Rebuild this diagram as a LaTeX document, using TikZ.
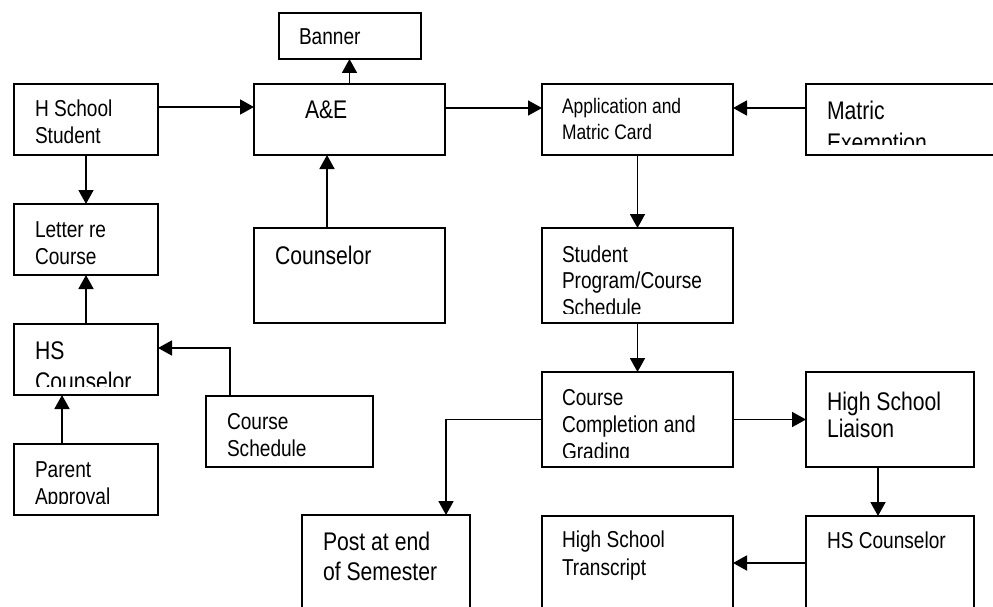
\documentclass[tikz,border=0pt]{standalone}
\usepackage{fontspec}
\setmainfont{Liberation Sans}[FakeStretch=0.83]
\usetikzlibrary{arrows.meta,calc}

% stacked lines with a fixed baseline distance; the baseline is that of the first line
\newcommand\stacklines[2]{\vtop{\baselineskip=#1\relax\lineskiplimit=-100pt\relax #2}}

\begin{document}
\begin{tikzpicture}[x=1pt,y=-1pt,
  box/.style={draw, line width=2.3pt, inner sep=0pt, outer sep=0pt, anchor=north west},
  txt/.style={inner sep=0pt, outer sep=0pt, anchor=base west},
  fsmall/.style={font=\fontsize{21}{25}\selectfont},
  fmed/.style={font=\fontsize{23}{27}\selectfont},
  flarge/.style={font=\fontsize{25.5}{30}\selectfont},
  arr/.style={line width=1.8pt, -{Triangle[length=14pt,width=15pt]}}]

\useasboundingbox (0,0) rectangle (993,607);
\clip (0,0) rectangle (993,607);

% ---- boxes ----
\node[box, minimum width=142pt, minimum height=46pt]  (banner)    at (279,13)  {};
\node[box, minimum width=144pt, minimum height=71pt]  (hss)       at (14,84)   {};
\node[box, minimum width=191pt, minimum height=71pt]  (ae)        at (254,84)  {};
\node[box, minimum width=191pt, minimum height=71pt]  (app)       at (542,84)  {};
\node[box, minimum width=200pt, minimum height=71pt]  (matric)    at (806,84)  {};
\node[box, minimum width=144pt, minimum height=71pt]  (letter)    at (14,204)  {};
\node[box, minimum width=191pt, minimum height=95pt]  (counselor) at (254,228) {};
\node[box, minimum width=191pt, minimum height=95pt]  (sprog)     at (542,228) {};
\node[box, minimum width=144pt, minimum height=71pt]  (hsc)       at (14,324)  {};
\node[box, minimum width=167pt, minimum height=71pt]  (cs)        at (206,396) {};
\node[box, minimum width=144pt, minimum height=71pt]  (parent)    at (14,444)  {};
\node[box, minimum width=191pt, minimum height=95pt]  (cc)        at (542,372) {};
\node[box, minimum width=168pt, minimum height=95pt]  (hsl)       at (806,372) {};
\node[box, minimum width=168pt, minimum height=110pt] (post)      at (302,515) {};
\node[box, minimum width=191pt, minimum height=110pt] (hst)       at (542,516) {};
\node[box, minimum width=168pt, minimum height=110pt] (hsc2)      at (806,516) {};

% ---- texts ----
\node[txt, fmed]   (banner-t)    at (299,45)  {Banner};
\node[txt, fmed]   (hss-t)       at (35,117)  {\stacklines{27pt}{\hbox{H School}\hbox{Student}}};
\node[txt, flarge] (ae-t)        at (305,119) {A\&E};
\node[txt, fsmall] (app-t)       at (562,114) {\stacklines{25pt}{\hbox{Application and}\hbox{Matric Card}}};
\begin{scope}
  \clip (806,84) rectangle (993,145);
  \node[txt, flarge] (matric-t)  at (827,119.5) {\stacklines{32pt}{\hbox{Matric}\hbox{Exemption}}};
\end{scope}
\node[txt, fmed]   (letter-t)    at (35,237)  {\stacklines{27pt}{\hbox{Letter re}\hbox{Course}}};
\node[txt, flarge] (counselor-t) at (275,264) {Counselor};
\begin{scope}
  \clip (542,228) rectangle (733,313);
  \node[txt, fmed] (sprog-t)     at (562,262) {\stacklines{26.5pt}{\hbox{Student}\hbox{Program/Course}\hbox{Schedule}}};
\end{scope}
\begin{scope}
  \clip (14,324) rectangle (158,386);
  \node[txt, flarge] (hsc-t)     at (35,359)  {\stacklines{31pt}{\hbox{HS}\hbox{Counselor}}};
\end{scope}
\node[txt, fmed]   (cs-t)        at (227,429) {\stacklines{27pt}{\hbox{Course}\hbox{Schedule}}};
\begin{scope}
  \clip (14,444) rectangle (158,503);
  \node[txt, fmed] (parent-t)    at (35,477)  {\stacklines{27pt}{\hbox{Parent}\hbox{Approval}}};
\end{scope}
\begin{scope}
  \clip (542,372) rectangle (733,457);
  \node[txt, fmed] (cc-t)        at (562,405) {\stacklines{27pt}{\hbox{Course}\hbox{Completion and}\hbox{Grading}}};
\end{scope}
\node[txt, flarge] (hsl-t)       at (827,410) {\stacklines{27pt}{\hbox{High School}\hbox{Liaison}}};
\node[txt, fmed]   (hst-t)       at (562,547) {\stacklines{28pt}{\hbox{High School}\hbox{Transcript}}};
\node[txt, fmed]   (hsc2-t)      at (827,548) {HS Counselor};
\node[txt, flarge] (post-t)      at (323,550) {\stacklines{30pt}{\hbox{Post at end}\hbox{of Semester}}};

% ---- connectors ----
\draw[arr] ($(hss.east)+(0,-12.5)$) -- ($(ae.west)+(0,-12.5)$);
\draw[arr] (ae.north) -- (ae.north |- banner.south);
\draw[arr] ($(ae.east)+(0,-11.5)$) -- ($(app.west)+(0,-11.5)$);
\draw[arr] ($(matric.west)+(0,-11.5)$) -- ($(app.east)+(0,-11.5)$);
\draw[arr] (hss.south) -- (letter.north);
\draw[arr] ($(counselor.north)+(-22.5,0)$) -- ($(ae.south)+(-22.5,0)$);
\draw[arr] (app.south) -- (sprog.north);
\draw[arr] (hsc.north) -- (letter.south);
\draw[arr] ($(cs.north)+(-59.5,0)$) |- ($(hsc.east)+(0,-11.5)$);
\draw[arr] ($(parent.north)+(-24,0)$) -- ($(hsc.south)+(-24,0)$);
\draw[arr] (sprog.south) -- (cc.north);
\draw[arr] (cc.east) -- (hsl.west);
\draw[arr] (cc.west) -| ($(post.north)+(60,0)$);
\draw[arr] ($(hsl.south)+(-12,0)$) -- ($(hsc2.north)+(-12,0)$);
\draw[arr] ($(hsc2.west)+(0,-8)$) -- ($(hst.east)+(0,-8)$);

\end{tikzpicture}
\end{document}
